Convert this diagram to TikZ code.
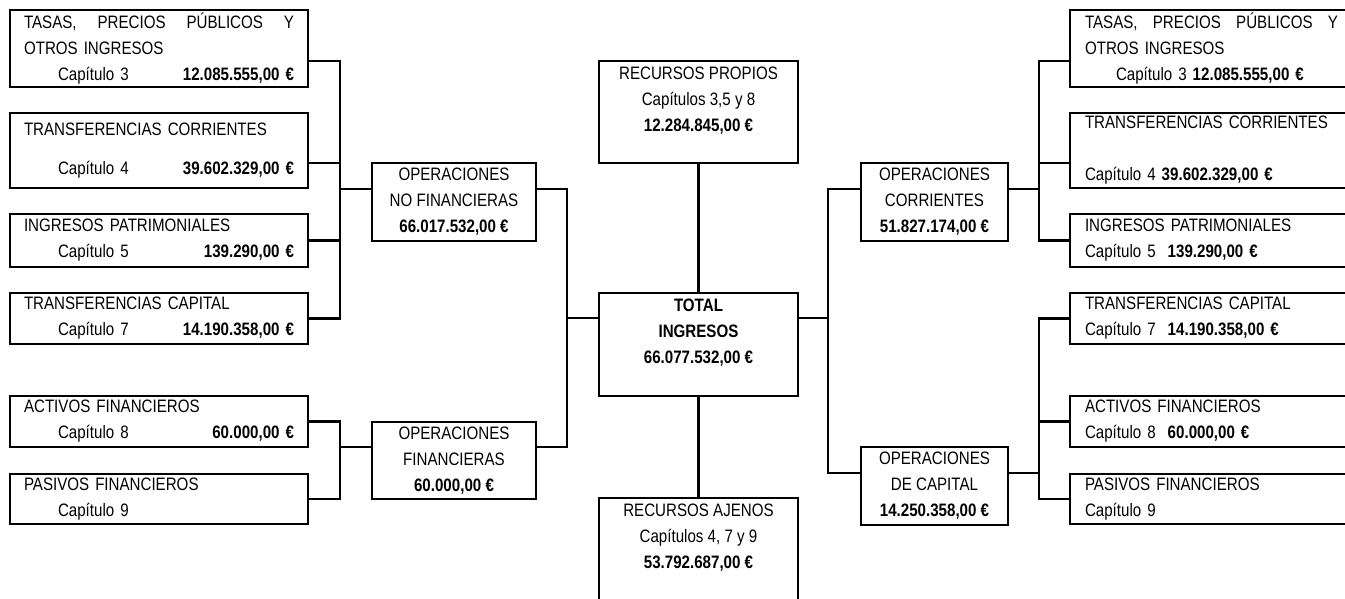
\documentclass[tikz,border=0pt]{standalone}
\usepackage{fontspec}
\setmainfont{Liberation Sans}[FakeStretch=0.84]
\begin{document}
\begin{tikzpicture}[x=1pt, y=-1pt, line width=2.7pt,
    font=\fontsize{18}{26}\selectfont,
    kasten/.style={draw, anchor=north west, inner sep=0pt, outer sep=0pt},
    links/.style={kasten, minimum width=298pt, text width=270pt, inner xsep=14pt, align=left},
    rechts/.style={kasten, minimum width=283pt, text width=253pt, inner xsep=15pt, align=left},
    mitte/.style={kasten, align=center}]

        \useasboundingbox (0,0) rectangle (1345,598);

        % Linke Spalte
        \node[links, minimum height=77pt] at (10,10) (l1) {TASAS,\hfill PRECIOS\hfill PÚBLICOS\hfill Y\\OTROS INGRESOS\\\hspace*{34pt}Capítulo 3\hfill\textbf{12.085.555,00 €}};
        \node[links, minimum height=75pt] at (10,113) (l2) {TRANSFERENCIAS CORRIENTES\\[13pt]\hspace*{34pt}Capítulo 4\hfill\textbf{39.602.329,00 €}};
        \node[links, minimum height=53pt] at (10,214) (l3) {INGRESOS PATRIMONIALES\\\hspace*{34pt}Capítulo 5\hfill\textbf{139.290,00 €}};
        \node[links, minimum height=51pt] at (10,293) (l4) {TRANSFERENCIAS CAPITAL\\\hspace*{34pt}Capítulo 7\hfill\textbf{14.190.358,00 €}};
        \node[links, minimum height=51pt] at (10,396) (l5) {ACTIVOS FINANCIEROS\\\hspace*{34pt}Capítulo 8\hfill\textbf{60.000,00 €}};
        \node[links, minimum height=50pt] at (10,474) (l6) {PASIVOS FINANCIEROS\\\hspace*{34pt}Capítulo 9};

        % Operationen links
        \node[mitte, minimum width=164pt, minimum height=78pt] at (372,163) (onf) {OPERACIONES\\NO FINANCIERAS\\\textbf{66.017.532,00 €}};
        \node[mitte, minimum width=164pt, minimum height=77pt] at (372,422) (opf) {OPERACIONES\\FINANCIERAS\\\textbf{60.000,00 €}};

        % Mitte
        \node[mitte, minimum width=199pt, minimum height=102pt] at (599,61) (rp) {RECURSOS PROPIOS\\Capítulos 3,5 y 8\\\textbf{12.284.845,00 €}\\\mbox{}};
        \node[mitte, minimum width=199pt, minimum height=103pt] at (599,293) (ti) {\textbf{TOTAL}\\\textbf{INGRESOS}\\\textbf{66.077.532,00 €}\\\mbox{}};
        \node[mitte, minimum width=199pt, minimum height=102pt] at (599,498) (ra) {RECURSOS AJENOS\\Capítulos 4, 7 y 9\\\textbf{53.792.687,00 €}\\\mbox{}};

        % Operationen rechts
        \node[mitte, minimum width=147pt, minimum height=78pt] at (861,163) (oc) {OPERACIONES\\CORRIENTES\\\textbf{51.827.174,00 €}};
        \node[mitte, minimum width=147pt, minimum height=78pt] at (861,447) (ok) {OPERACIONES\\DE CAPITAL\\\textbf{14.250.358,00 €}};

        % Rechte Spalte
        \node[rechts, minimum height=77pt] at (1070,10) (r1) {TASAS,\hfill PRECIOS\hfill PÚBLICOS\hfill Y\\OTROS INGRESOS\\\hspace*{31pt}Capítulo 3 \textbf{12.085.555,00 €}};
        \node[rechts, minimum height=75pt] at (1070,113) (r2) {TRANSFERENCIAS CORRIENTES\\[26pt]Capítulo 4 \textbf{39.602.329,00 €}};
        \node[rechts, minimum height=53pt] at (1070,214) (r3) {INGRESOS PATRIMONIALES\\Capítulo 5\ \ \textbf{139.290,00 €}};
        \node[rechts, minimum height=51pt] at (1070,293) (r4) {TRANSFERENCIAS CAPITAL\\Capítulo 7\ \ \textbf{14.190.358,00 €}};
        \node[rechts, minimum height=51pt] at (1070,396) (r5) {ACTIVOS FINANCIEROS\\Capítulo 8\ \ \textbf{60.000,00 €}};
        \node[rechts, minimum height=50pt] at (1070,474) (r6) {PASIVOS FINANCIEROS\\Capítulo 9};

        % Knickpunkte
        \coordinate (kl1) at (340,189);
        \coordinate (kl2) at (340,447);
        \coordinate (km1) at (567,318);
        \coordinate (km2) at (828,318);
        \coordinate (kr1) at (1039,189);
        \coordinate (kr2) at (1039,473);

        % Linien links
        \draw ([yshift=-51pt]l1.north east) -| (kl1);
        \draw ([yshift=-50pt]l2.north east) -| (kl1);
        \draw (l3.east) -| (kl1);
        \draw (l4.east) -| (kl1);
        \draw (kl1) -- (kl1 -| onf.west);
        \draw (l5.east) -| (kl2);
        \draw (l6.east) -| (kl2);
        \draw (kl2) -- (kl2 -| opf.west);

        % Linien Mitte
        \draw ([yshift=-26pt]onf.north east) -| (km1);
        \draw ([yshift=-25pt]opf.north east) -| (km1);
        \draw (km1) -- (km1 -| ti.west);
        \draw (rp) -- (ti);
        \draw (ti) -- (ra);
        \draw (km2 -| ti.east) -- (km2);
        \draw (km2) |- ([yshift=-26pt]oc.north west);
        \draw (km2) |- ([yshift=-26pt]ok.north west);

        % Linien rechts
        \draw ([yshift=-26pt]oc.north east) -- (kr1);
        \draw (kr1) |- ([yshift=-51pt]r1.north west);
        \draw (kr1) |- ([yshift=-50pt]r2.north west);
        \draw (kr1) |- (r3.west);
        \draw ([yshift=-26pt]ok.north east) -- (kr2);
        \draw (kr2) |- (r4.west);
        \draw (kr2) |- (r5.west);
        \draw (kr2) |- (r6.west);

    \end{tikzpicture}
\end{document}
